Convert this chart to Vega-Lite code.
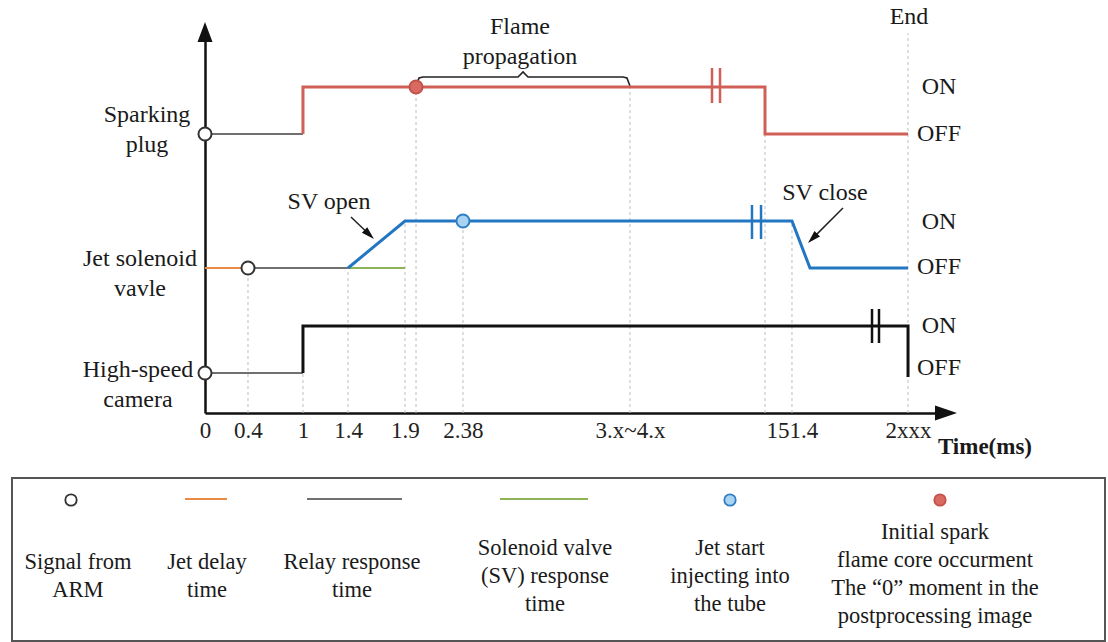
{
  "$schema": "https://vega.github.io/schema/vega-lite/v6.json",
  "width": 735,
  "height": 383,
  "autosize": {"type": "none"},
  "padding": {"left": 205, "top": 30, "right": 168, "bottom": 229},
  "background": "white",
  "config": {
    "view": {"stroke": null},
    "legend": {"disable": true},
    "text": {"font": "Liberation Serif", "color": "#1a1a1a"}
  },
  "datasets": {
    "lines": [
      {"seg": "s0", "o": 0, "x": 0, "y": 27.9, "phase": "Relay response time"},
      {"seg": "s0", "o": 1, "x": 13.33, "y": 27.9, "phase": "Relay response time"},
      {"seg": "s1", "o": 0, "x": 13.33, "y": 27.9, "phase": "Sparking plug"},
      {"seg": "s1", "o": 1, "x": 13.33, "y": 32.6, "phase": "Sparking plug"},
      {"seg": "s1", "o": 2, "x": 76.19, "y": 32.6, "phase": "Sparking plug"},
      {"seg": "s1", "o": 3, "x": 76.19, "y": 27.9, "phase": "Sparking plug"},
      {"seg": "s1", "o": 4, "x": 95.65, "y": 27.9, "phase": "Sparking plug"},
      {"seg": "j0", "o": 0, "x": 0, "y": 14.5, "phase": "Jet delay time"},
      {"seg": "j0", "o": 1, "x": 5.85, "y": 14.5, "phase": "Jet delay time"},
      {"seg": "j1", "o": 0, "x": 5.85, "y": 14.5, "phase": "Relay response time"},
      {"seg": "j1", "o": 1, "x": 19.46, "y": 14.5, "phase": "Relay response time"},
      {"seg": "j2", "o": 0, "x": 19.46, "y": 14.5, "phase": "Solenoid valve (SV) response time"},
      {"seg": "j2", "o": 1, "x": 27.21, "y": 14.5, "phase": "Solenoid valve (SV) response time"},
      {"seg": "j3", "o": 0, "x": 19.46, "y": 14.5, "phase": "Jet solenoid valve"},
      {"seg": "j3", "o": 1, "x": 27.21, "y": 19.2, "phase": "Jet solenoid valve"},
      {"seg": "j3", "o": 2, "x": 79.86, "y": 19.2, "phase": "Jet solenoid valve"},
      {"seg": "j3", "o": 3, "x": 82.31, "y": 14.5, "phase": "Jet solenoid valve"},
      {"seg": "j3", "o": 4, "x": 95.65, "y": 14.5, "phase": "Jet solenoid valve"},
      {"seg": "c0", "o": 0, "x": 0, "y": 4.0, "phase": "Relay response time"},
      {"seg": "c0", "o": 1, "x": 13.33, "y": 4.0, "phase": "Relay response time"},
      {"seg": "c1", "o": 0, "x": 13.33, "y": 4.0, "phase": "High-speed camera"},
      {"seg": "c1", "o": 1, "x": 13.33, "y": 8.7, "phase": "High-speed camera"},
      {"seg": "c1", "o": 2, "x": 95.65, "y": 8.7, "phase": "High-speed camera"},
      {"seg": "c1", "o": 3, "x": 95.65, "y": 3.6, "phase": "High-speed camera"}
    ],
    "guides": [
      {"x": 5.85, "y": 0, "y2": 14.5},
      {"x": 13.33, "y": 0, "y2": 4.0},
      {"x": 19.46, "y": 0, "y2": 14.5},
      {"x": 27.21, "y": 0, "y2": 19.2},
      {"x": 28.71, "y": 0, "y2": 32.6},
      {"x": 35.10, "y": 0, "y2": 19.2},
      {"x": 57.82, "y": 0, "y2": 32.6},
      {"x": 76.19, "y": 0, "y2": 27.9},
      {"x": 79.86, "y": 0, "y2": 19.2},
      {"x": 95.65, "y": 0, "y2": 38.0}
    ],
    "breaks": [
      {"x": 68.98, "y": 31.0, "y2": 34.5, "phase": "Sparking plug"},
      {"x": 70.07, "y": 31.0, "y2": 34.5, "phase": "Sparking plug"},
      {"x": 74.42, "y": 17.4, "y2": 20.8, "phase": "Jet solenoid valve"},
      {"x": 75.65, "y": 17.4, "y2": 20.8, "phase": "Jet solenoid valve"},
      {"x": 90.75, "y": 7.0, "y2": 10.4, "phase": "High-speed camera"},
      {"x": 91.70, "y": 7.0, "y2": 10.4, "phase": "High-speed camera"}
    ],
    "markers": [
      {"kind": "Signal from ARM", "x": 0, "y": 27.9},
      {"kind": "Signal from ARM", "x": 5.85, "y": 14.5},
      {"kind": "Signal from ARM", "x": 0, "y": 4.0},
      {"kind": "Initial spark flame core occurment", "x": 28.71, "y": 32.6},
      {"kind": "Jet start injecting into the tube", "x": 35.10, "y": 19.2}
    ],
    "brace": [
      {"o": 0, "x": 28.71, "y": 32.7},
      {"o": 1, "x": 29.12, "y": 33.5},
      {"o": 2, "x": 29.66, "y": 33.6},
      {"o": 3, "x": 42.59, "y": 33.6},
      {"o": 4, "x": 43.27, "y": 34.1},
      {"o": 5, "x": 43.95, "y": 33.6},
      {"o": 6, "x": 56.87, "y": 33.6},
      {"o": 7, "x": 57.41, "y": 33.5},
      {"o": 8, "x": 57.82, "y": 32.7}
    ],
    "arrows": [
      {"name": "SV open", "x": 19.86, "y": 19.6, "x2": 22.35, "y2": 17.85},
      {"name": "SV close", "x": 86.80, "y": 20.5, "x2": 82.67, "y2": 17.46}
    ],
    "chartText": [
      {"text": "Sparking\nplug", "x": -7.89, "y": 29.8},
      {"text": "Jet solenoid\nvavle", "x": -8.84, "y": 15.4},
      {"text": "High-speed\ncamera", "x": -9.12, "y": 4.3},
      {"text": "ON", "x": 99.86, "y": 32.6},
      {"text": "OFF", "x": 99.86, "y": 27.9},
      {"text": "ON", "x": 99.86, "y": 19.1},
      {"text": "OFF", "x": 99.86, "y": 14.6},
      {"text": "ON", "x": 99.86, "y": 8.7},
      {"text": "OFF", "x": 99.86, "y": 4.5},
      {"text": "End", "x": 95.78, "y": 39.6},
      {"text": "Flame\npropagation", "x": 42.86, "y": 38.6},
      {"text": "SV open", "x": 16.87, "y": 21.1},
      {"text": "SV close", "x": 84.35, "y": 22.0}
    ],
    "legendBox": [
      {"x": -26.26, "x2": 122.45, "y": -6.5, "y2": -22.8}
    ],
    "legendSymbols": [
      {"kind": "Signal from ARM", "x": -18.23, "y": -8.7},
      {"kind": "Jet start injecting into the tube", "x": 71.43, "y": -8.7},
      {"kind": "Initial spark flame core occurment", "x": 100.0, "y": -8.7}
    ],
    "legendLines": [
      {"phase": "Jet delay time", "x": -2.72, "x2": 2.99, "y": -8.6},
      {"phase": "Relay response time", "x": 13.88, "x2": 26.80, "y": -8.6},
      {"phase": "Solenoid valve (SV) response time", "x": 40.14, "x2": 52.11, "y": -8.6}
    ],
    "legendText": [
      {"text": "Signal from\nARM", "x": -17.28, "y": -14.9},
      {"text": "Jet delay\ntime", "x": 0.27, "y": -14.9},
      {"text": "Relay response\ntime", "x": 20.0, "y": -14.9},
      {"text": "Solenoid valve\n(SV) response\ntime", "x": 46.26, "y": -13.5},
      {"text": "Jet start\ninjecting into\nthe tube", "x": 71.43, "y": -13.5},
      {"text": "Initial spark\nflame core occurment\nThe  “0”  moment in the\npostprocessing image", "x": 99.32, "y": -11.9}
    ]
  },
  "encoding": {
    "x": {
      "field": "x",
      "type": "quantitative",
      "scale": {"domain": [0, 100], "nice": false, "zero": false},
      "axis": {
        "title": null,
        "values": [0, 5.85, 13.33, 19.46, 27.21, 35.10, 57.82, 79.86, 95.65],
        "labelExpr": "datum.value < 3 ? '0' : datum.value < 9 ? '0.4' : datum.value < 16 ? '1' : datum.value < 23 ? '1.4' : datum.value < 31 ? '1.9' : datum.value < 45 ? '2.38' : datum.value < 70 ? '3.x~4.x' : datum.value < 90 ? '151.4' : '2xxx'",
        "labelFont": "Liberation Serif",
        "labelFontSize": 23,
        "labelColor": "#222222",
        "labelPadding": 6,
        "labelFlush": false,
        "labelOverlap": false,
        "labelBound": false,
        "ticks": false,
        "tickSize": 0,
        "grid": false,
        "domainColor": "#111111",
        "domainWidth": 2.5
      }
    },
    "y": {
      "field": "y",
      "type": "quantitative",
      "scale": {"domain": [0, 38.3], "nice": false, "zero": false},
      "axis": {
        "title": null,
        "labels": false,
        "ticks": false,
        "grid": false,
        "domainColor": "#111111",
        "domainWidth": 2.5
      }
    }
  },
  "layer": [
    {
      "data": {"name": "guides"},
      "mark": {"type": "rule", "color": "#bdbdbd", "strokeWidth": 1, "strokeDash": [3, 3]},
      "encoding": {"y2": {"field": "y2"}}
    },
    {
      "data": {"name": "brace"},
      "mark": {"type": "line", "color": "#222222", "strokeWidth": 1.6},
      "encoding": {"order": {"field": "o"}}
    },
    {
      "data": {"name": "lines"},
      "mark": {"type": "line"},
      "encoding": {
        "color": {
          "field": "phase",
          "type": "nominal",
          "scale": {
            "domain": ["Relay response time", "Jet delay time", "Solenoid valve (SV) response time", "Sparking plug", "Jet solenoid valve", "High-speed camera"],
            "range": ["#707070", "#e98a45", "#8db356", "#cf5f57", "#2276c2", "#111111"]
          }
        },
        "strokeWidth": {
          "condition": {"test": "datum.phase === 'Sparking plug' || datum.phase === 'Jet solenoid valve' || datum.phase === 'High-speed camera'", "value": 3},
          "value": 2
        },
        "detail": {"field": "seg"},
        "order": {"field": "o"}
      }
    },
    {
      "data": {"name": "breaks"},
      "mark": {"type": "rule", "strokeWidth": 2.5},
      "encoding": {
        "y2": {"field": "y2"},
        "color": {"field": "phase", "type": "nominal"}
      }
    },
    {
      "data": {"name": "markers"},
      "mark": {"type": "point", "shape": "circle", "size": 170, "strokeWidth": 2, "opacity": 1, "filled": true},
      "encoding": {
        "fill": {
          "field": "kind",
          "type": "nominal",
          "scale": {
            "domain": ["Signal from ARM", "Jet start injecting into the tube", "Initial spark flame core occurment"],
            "range": ["#ffffff", "#a9d3f0", "#d86a62"]
          }
        },
        "stroke": {
          "field": "kind",
          "type": "nominal",
          "scale": {
            "domain": ["Signal from ARM", "Jet start injecting into the tube", "Initial spark flame core occurment"],
            "range": ["#333333", "#2f7fc4", "#c4524b"]
          }
        }
      }
    },
    {
      "data": {"name": "arrows"},
      "mark": {"type": "rule", "color": "#222222", "strokeWidth": 1.5},
      "encoding": {"x2": {"field": "x2"}, "y2": {"field": "y2"}}
    },
    {
      "data": {"values": [{"x": 22.35, "y": 17.85}]},
      "mark": {"type": "point", "shape": "M-0.6,1L0,-1L0.6,1Z", "size": 169, "filled": true, "color": "#111111", "opacity": 1, "angle": 133.7, "strokeWidth": 0}
    },
    {
      "data": {"values": [{"x": 82.67, "y": 17.46}]},
      "mark": {"type": "point", "shape": "M-0.6,1L0,-1L0.6,1Z", "size": 169, "filled": true, "color": "#111111", "opacity": 1, "angle": 225, "strokeWidth": 0}
    },
    {
      "data": {"values": [{"x": 100.82, "y": 0}]},
      "mark": {"type": "point", "shape": "M-1,-0.68L1,0L-1,0.68Z", "size": 484, "filled": true, "color": "#111111", "opacity": 1, "strokeWidth": 0}
    },
    {
      "data": {"values": [{"x": 0, "y": 38.1}]},
      "mark": {"type": "point", "shape": "M-0.75,1L0,-1L0.75,1Z", "size": 400, "filled": true, "color": "#111111", "opacity": 1, "strokeWidth": 0}
    },
    {
      "data": {"name": "chartText"},
      "mark": {"type": "text", "fontSize": 24, "lineHeight": 30, "align": "center", "baseline": "middle", "lineBreak": "\n"},
      "encoding": {"text": {"field": "text"}}
    },
    {
      "data": {"values": [{"text": "Time(ms)", "x": 106.12, "y": -3.4}]},
      "mark": {"type": "text", "fontSize": 23, "fontWeight": "bold", "align": "center", "baseline": "middle"},
      "encoding": {"text": {"field": "text"}}
    },
    {
      "data": {"name": "legendBox"},
      "mark": {"type": "rect", "fill": "transparent", "stroke": "#555555", "strokeWidth": 2},
      "encoding": {"x2": {"field": "x2"}, "y2": {"field": "y2"}}
    },
    {
      "data": {"name": "legendLines"},
      "mark": {"type": "rule", "strokeWidth": 2},
      "encoding": {
        "x2": {"field": "x2"},
        "color": {"field": "phase", "type": "nominal"}
      }
    },
    {
      "data": {"name": "legendSymbols"},
      "mark": {"type": "point", "shape": "circle", "size": 130, "strokeWidth": 1.8, "opacity": 1, "filled": true},
      "encoding": {
        "fill": {"field": "kind", "type": "nominal"},
        "stroke": {"field": "kind", "type": "nominal"}
      }
    },
    {
      "data": {"name": "legendText"},
      "mark": {"type": "text", "fontSize": 22.5, "lineHeight": 28, "align": "center", "baseline": "middle", "lineBreak": "\n"},
      "encoding": {"text": {"field": "text"}}
    }
  ]
}
